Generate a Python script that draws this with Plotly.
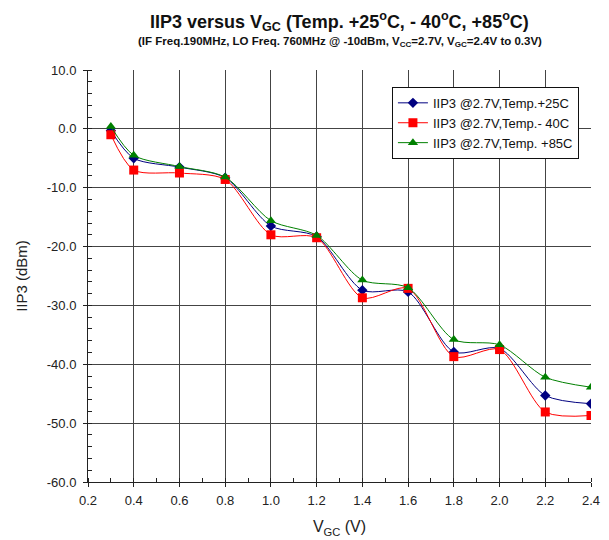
import plotly.graph_objects as go

vgc = [0.3, 0.4, 0.6, 0.8, 1.0, 1.2, 1.4, 1.6, 1.8, 2.0, 2.2, 2.4]
iip3_25 = [-0.3, -5.0, -6.5, -8.3, -16.5, -18.3, -27.4, -27.7, -37.9, -37.3, -45.3, -46.7]
iip3_m40 = [-1.0, -7.0, -7.5, -8.6, -18.0, -18.5, -28.7, -27.1, -38.7, -37.5, -48.1, -48.7]
iip3_85 = [0.4, -4.5, -6.4, -8.2, -15.6, -18.1, -25.7, -27.0, -35.8, -36.7, -42.2, -43.9]

y_tick_vals = [10, 0, -10, -20, -30, -40, -50, -60]
y_tick_text = ["10.0", "0.0", "-10.0", "-20.0", "-30.0", "-40.0", "-50.0", "-60.0"]

names = ["IIP3 @2.7V,Temp.+25C", "IIP3 @2.7V,Temp.- 40C", "IIP3 @2.7V,Temp. +85C"]
colors = ["#000080", "#FF0000", "#008000"]
symbols = ["diamond", "square", "triangle-up"]
sizes = [8, 9, 9]

fig = go.Figure()
for ys, nm, c, s, sz in zip([iip3_25, iip3_m40, iip3_85], names, colors, symbols, sizes):
    fig.add_trace(go.Scatter(
        x=vgc, y=ys, name=nm, mode="lines+markers",
        line=dict(color=c, width=1, shape="spline", smoothing=0.8),
        marker=dict(color=c, symbol=s, size=sz),
    ))

axis_common = dict(
    showline=True, linecolor="#222", linewidth=1,
    showgrid=True, gridcolor="#444", gridwidth=1,
    ticks="outside", ticklen=4, tickcolor="#222",
    tickfont=dict(family="Arial, Liberation Sans", size=13, color="#222"),
    zeroline=False, automargin=False,
)

fig.update_layout(
    width=601, height=532,
    paper_bgcolor="white", plot_bgcolor="white",
    margin=dict(l=80, r=18, t=62, b=58),
    font=dict(family="Arial, Liberation Sans", color="#111"),
    showlegend=True,
    legend=dict(
        x=0.976, y=0.959, xanchor="right", yanchor="top",
        bgcolor="white", bordercolor="#111", borderwidth=1,
        font=dict(size=13, color="#111"),
        tracegroupgap=0, itemwidth=30,
    ),
    xaxis=dict(
        range=[0.2, 2.4], dtick=0.2, tick0=0.2, tickformat=".1f",
        ticklabelstandoff=2,
        title=dict(text="V<sub>GC</sub> (V)", font=dict(size=16, color="#222"), standoff=14),
        minor=dict(dtick=0.1, ticks="inside", ticklen=4, tickcolor="#222", showgrid=False),
        **axis_common,
    ),
    yaxis=dict(
        range=[-60, 10], tickmode="array", tickvals=y_tick_vals, ticktext=y_tick_text,
        ticklabelstandoff=4,
        title=dict(text="IIP3 (dBm)", font=dict(size=15, color="#222"), standoff=15),
        minor=dict(tickmode="linear", tick0=0, dtick=2, ticks="inside", ticklen=4, tickcolor="#222", showgrid=False),
        **axis_common,
    ),
)

fig.add_annotation(
    text="<b>IIP3 versus V<sub>GC</sub> (Temp. +25<sup>o</sup>C, - 40<sup>o</sup>C, +85<sup>o</sup>C)</b>",
    xref="paper", yref="paper", x=0.5, y=1.0, yshift=34, xanchor="center", yanchor="bottom",
    showarrow=False, font=dict(size=18, color="#111"),
)
fig.add_annotation(
    text="<b>(IF Freq.190MHz, LO Freq. 760MHz @ -10dBm, V<sub>CC</sub>=2.7V, V<sub>GC</sub>=2.4V to 0.3V)</b>",
    xref="paper", yref="paper", x=0.5, y=1.0, yshift=19, xanchor="center", yanchor="bottom",
    showarrow=False, font=dict(size=11.5, color="#111"),
)

fig.write_html("out.html")
